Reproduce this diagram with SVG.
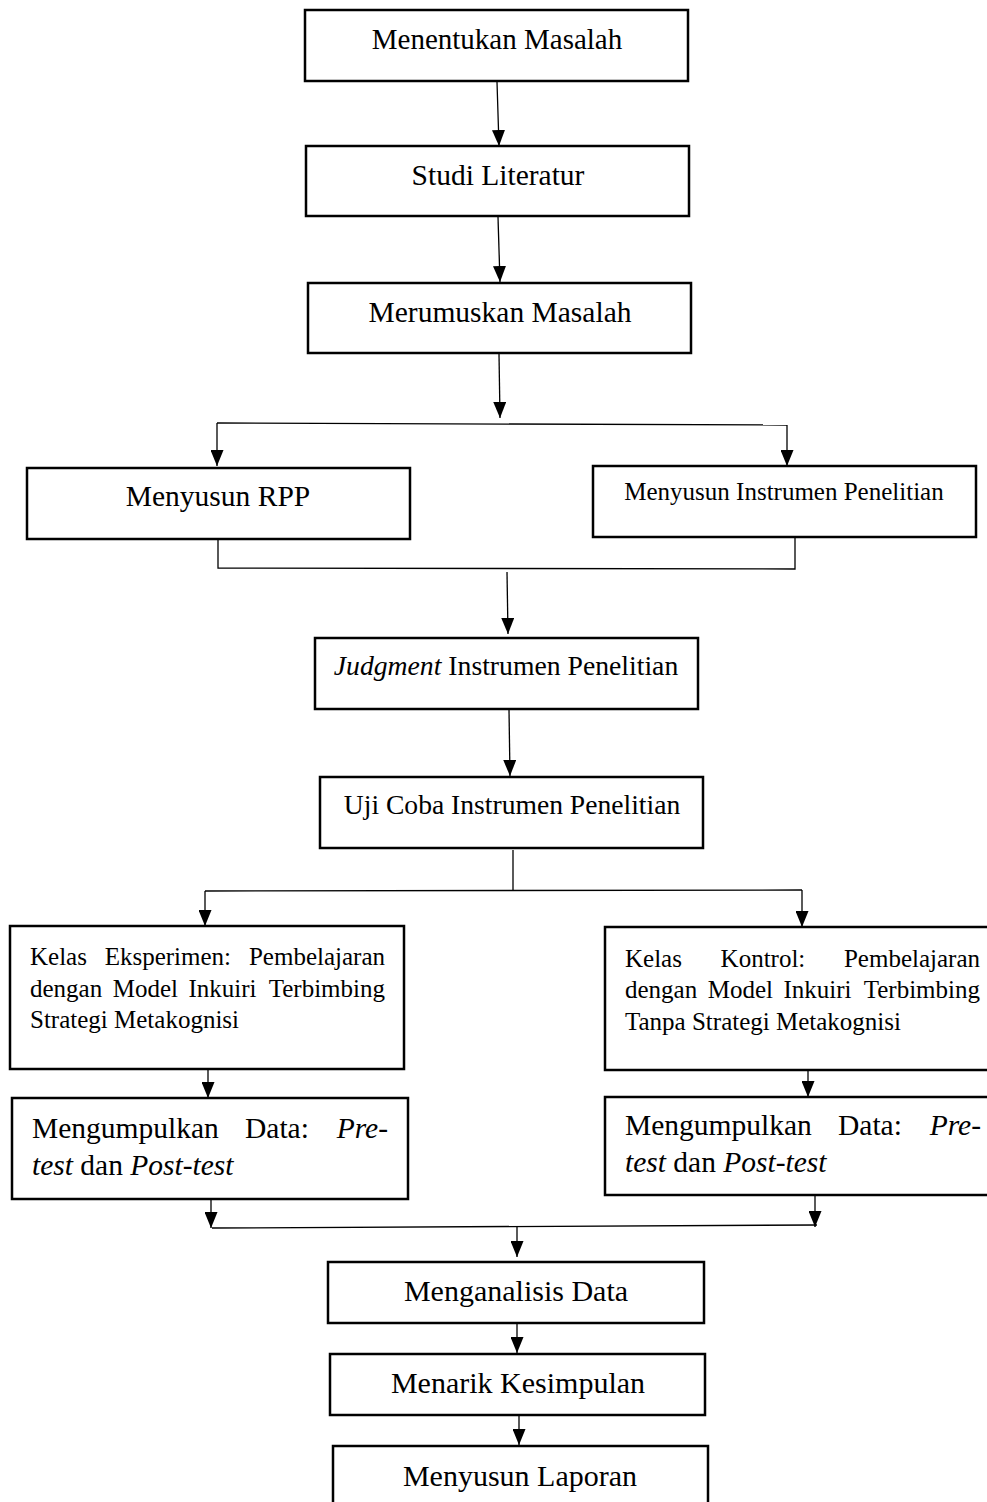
<svg xmlns="http://www.w3.org/2000/svg" width="987" height="1502" viewBox="0 0 987 1502">
<style>
.box{fill:#fff;stroke:#000;stroke-width:2.5}
text{font-family:"Liberation Serif","Times New Roman",serif;fill:#000}
.c{text-anchor:middle}
.e{text-anchor:end}
.i{font-style:italic}
.s25{font-size:25px}
.s29{font-size:29.5px}
.ln{fill:none;stroke:#000;stroke-width:1.3}
</style>
<defs>
<marker id="tri" viewBox="0 0 16 13" refX="16" refY="6.5" markerWidth="16" markerHeight="13" markerUnits="userSpaceOnUse" orient="auto">
<path d="M0,0 L16,6.5 L0,13 Z" fill="#000"/>
</marker>
</defs>
<g id="connectors">
<path class="ln" d="M497,82 L499,146" marker-end="url(#tri)"/>
<path class="ln" d="M498,217 L500,282" marker-end="url(#tri)"/>
<path class="ln" d="M499,354 L500,418" marker-end="url(#tri)"/>
<path class="ln" d="M217,423 L787,425"/>
<path class="ln" d="M217,423 L217,466" marker-end="url(#tri)"/>
<path class="ln" d="M787,425 L787,466" marker-end="url(#tri)"/>
<path class="ln" d="M218,540 L218,568 L795,569 L795,538"/>
<path class="ln" d="M507,572 L508,634" marker-end="url(#tri)"/>
<path class="ln" d="M509,710 L510,776" marker-end="url(#tri)"/>
<path class="ln" d="M513,850 L513,890"/>
<path class="ln" d="M205,891 L802,890"/>
<path class="ln" d="M205,891 L205,926" marker-end="url(#tri)"/>
<path class="ln" d="M802,890 L802,927" marker-end="url(#tri)"/>
<path class="ln" d="M208,1070 L208,1098" marker-end="url(#tri)"/>
<path class="ln" d="M808,1068 L808,1097" marker-end="url(#tri)"/>
<path class="ln" d="M211,1200 L211,1228" marker-end="url(#tri)"/>
<path class="ln" d="M815,1196 L815,1227" marker-end="url(#tri)"/>
<path class="ln" d="M212,1228 L817,1225"/>
<path class="ln" d="M517,1227 L517,1257" marker-end="url(#tri)"/>
<path class="ln" d="M517,1324 L517,1353" marker-end="url(#tri)"/>
<path class="ln" d="M519,1416 L519,1445" marker-end="url(#tri)"/>
</g>
<g id="n1"><rect class="box" x="305" y="10" width="383" height="71"/><text class="c" x="497" y="49" font-size="29">Menentukan Masalah</text></g>
<g id="n2"><rect class="box" x="306" y="146" width="383" height="70"/><text class="c s29" x="498" y="185">Studi Literatur</text></g>
<g id="n3"><rect class="box" x="308" y="283" width="383" height="70"/><text class="c s29" x="500" y="322">Merumuskan Masalah</text></g>
<g id="n4"><rect class="box" x="27" y="468" width="383" height="71"/><text class="c s29" x="218" y="506">Menyusun RPP</text></g>
<g id="n5"><rect class="box" x="593" y="466" width="383" height="71"/><text class="c s25" x="784" y="500">Menyusun Instrumen Penelitian</text></g>
<g id="n6"><rect class="box" x="315" y="638" width="383" height="71"/><text class="c" x="506" y="675" font-size="27.7"><tspan class="i">Judgment</tspan> Instrumen Penelitian</text></g>
<g id="n7"><rect class="box" x="320" y="777" width="383" height="71"/><text class="c" x="512" y="814" font-size="27.6">Uji Coba Instrumen Penelitian</text></g>
<g id="n8"><rect class="box" x="10" y="926" width="394" height="143"/>
<text class="s25" y="965"><tspan x="30">Kelas</tspan> <tspan x="104.7">Eksperimen:</tspan></text>
<text class="s25 e" x="385" y="965">Pembelajaran</text>
<text class="s25" y="997"><tspan x="30">dengan</tspan> <tspan x="112.7">Model</tspan> <tspan x="188.4">Inkuiri</tspan></text>
<text class="s25 e" x="385" y="997">Terbimbing</text>
<text class="s25" x="30" y="1028">Strategi Metakognisi</text></g>
<g id="n9"><rect class="box" x="605" y="927" width="386" height="143"/>
<text class="s25" y="967"><tspan x="625">Kelas</tspan> <tspan x="720.6">Kontrol:</tspan></text>
<text class="s25 e" x="980" y="967">Pembelajaran</text>
<text class="s25" y="998"><tspan x="625">dengan</tspan> <tspan x="707.7">Model</tspan> <tspan x="783.4">Inkuiri</tspan></text>
<text class="s25 e" x="980" y="998">Terbimbing</text>
<text class="s25" x="625" y="1030">Tanpa Strategi Metakognisi</text></g>
<g id="n10"><rect class="box" x="12" y="1098" width="396" height="101"/>
<text font-size="29.5" y="1138"><tspan x="32">Mengumpulkan</tspan> <tspan x="245">Data:</tspan></text>
<text class="e i" font-size="29.5" x="388" y="1138">Pre-</text>
<text font-size="29.5" x="32" y="1175"><tspan class="i">test</tspan> dan <tspan class="i">Post-test</tspan></text></g>
<g id="n11"><rect class="box" x="605" y="1097" width="386" height="98"/>
<text font-size="29.5" y="1135"><tspan x="625">Mengumpulkan</tspan> <tspan x="838">Data:</tspan></text>
<text class="e i" font-size="29.5" x="981" y="1135">Pre-</text>
<text font-size="29.5" x="625" y="1172"><tspan class="i">test</tspan> dan <tspan class="i">Post-test</tspan></text></g>
<g id="n12"><rect class="box" x="328" y="1262" width="376" height="61"/><text class="c" x="516" y="1301" font-size="30">Menganalisis Data</text></g>
<g id="n13"><rect class="box" x="330" y="1354" width="375" height="61"/><text class="c" x="518" y="1393" font-size="30">Menarik Kesimpulan</text></g>
<g id="n14"><rect class="box" x="333" y="1446" width="375" height="70"/><text class="c" x="520" y="1486" font-size="30">Menyusun Laporan</text></g>
</svg>
